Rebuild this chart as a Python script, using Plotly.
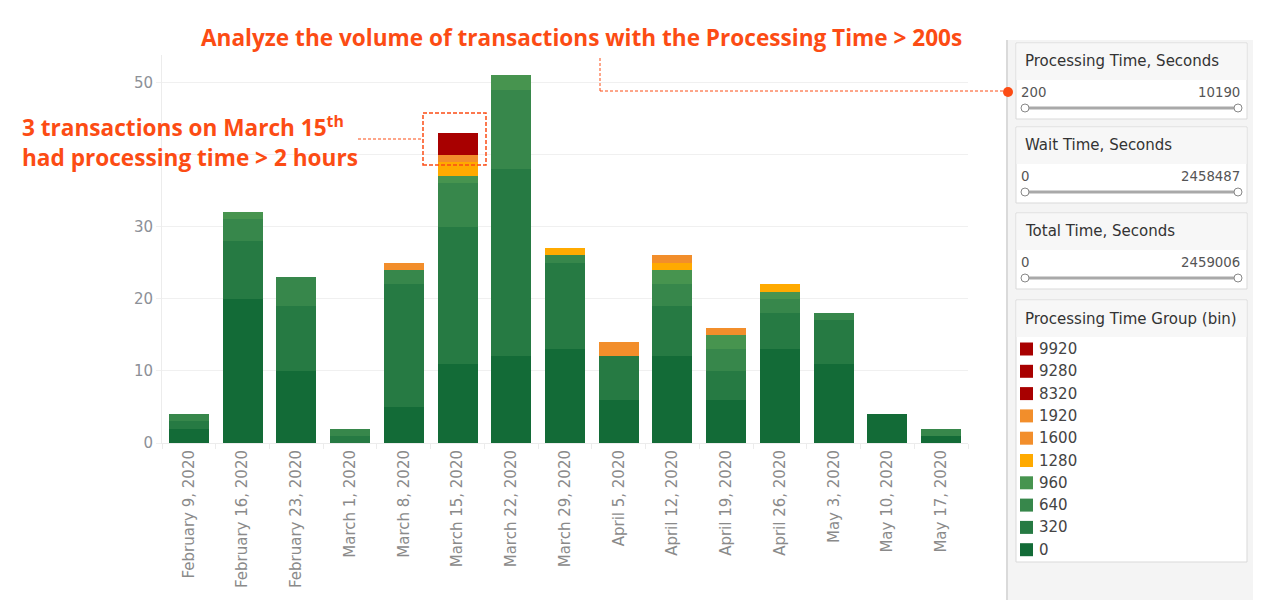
import plotly.graph_objects as go

# ─── Data (counts of transactions per week, by processing time bin) ───
weeks = [
    "February 9, 2020", "February 16, 2020", "February 23, 2020",
    "March 1, 2020", "March 8, 2020", "March 15, 2020", "March 22, 2020",
    "March 29, 2020", "April 5, 2020", "April 12, 2020", "April 19, 2020",
    "April 26, 2020", "May 3, 2020", "May 10, 2020", "May 17, 2020",
]
bin_0 = [2, 20, 10, 0, 5, 11, 12, 13, 6, 12, 6, 13, 11, 4, 1]
bin_320 = [1, 8, 9, 1, 17, 19, 26, 12, 6, 7, 4, 5, 6, 0, 0]
bin_640 = [1, 3, 4, 1, 2, 6, 11, 1, 0, 3, 3, 2, 1, 0, 1]
bin_960 = [0, 1, 0, 0, 0, 1, 2, 0, 0, 2, 2, 1, 0, 0, 0]
bin_1280 = [0, 0, 0, 0, 0, 2, 0, 1, 0, 1, 0, 1, 0, 0, 0]
bin_1600 = [0, 0, 0, 0, 1, 1, 0, 0, 2, 1, 1, 0, 0, 0, 0]
bin_1920 = [0, 0, 0, 0, 0, 0, 0, 0, 0, 0, 0, 0, 0, 0, 0]
bin_8320 = [0, 0, 0, 0, 0, 1, 0, 0, 0, 0, 0, 0, 0, 0, 0]
bin_9280 = [0, 0, 0, 0, 0, 1, 0, 0, 0, 0, 0, 0, 0, 0, 0]
bin_9920 = [0, 0, 0, 0, 0, 1, 0, 0, 0, 0, 0, 0, 0, 0, 0]

bin_labels = ["0", "320", "640", "960", "1280", "1600", "1920", "8320", "9280", "9920"]
bin_values = [bin_0, bin_320, bin_640, bin_960, bin_1280, bin_1600, bin_1920,
              bin_8320, bin_9280, bin_9920]
bin_colors = ["#136b37", "#267a43", "#37874b", "#47944f", "#ffaa00",
              "#f28e2b", "#f28e2b", "#a80000", "#a80000", "#a80000"]

y_ticks = [0, 10, 20, 30, 50]   # 40 label is hidden under the callout
y_hidden_grid = [40]

filters = [
    ("Processing Time, Seconds", "200", "10190"),
    ("Wait Time, Seconds", "0", "2458487"),
    ("Total Time, Seconds", "0", "2459006"),
]

# ─── Page geometry (page pixels; the page body adds an 8px margin) ───
OFF = 8
W, H = 1281 - 2 * OFF, 615 - 2 * OFF
L, R, T, B = 162, 968, 55, 443
ORANGE = "#fc4c14"
FONT = "DejaVu Sans"
CALLOUT = dict(family="Open Sans", size=22.6, color=ORANGE, weight="bold")


def px(x):
    return (x - L) / (R - L)


def py(y):
    return (B - y) / (B - T)


def note(x, y, text, size, color, anchor="left", family=FONT, **kw):
    return dict(x=px(x), y=py(y), xref="paper", yref="paper", text=text,
                showarrow=False, xanchor=anchor, yanchor="middle",
                font=dict(family=family, size=size, color=color), **kw)


fig = go.Figure()
for label, vals, color in zip(bin_labels, bin_values, bin_colors):
    fig.add_trace(go.Bar(
        x=weeks, y=vals, name=label,
        marker=dict(color=color, line=dict(width=0)),
    ))

shapes = []
annotations = []

for g in y_hidden_grid:
    shapes.append(dict(type="line", xref="paper", yref="y", layer="below",
                       x0=0, x1=1, y0=g, y1=g,
                       line=dict(color="#f0f0f0", width=1)))

# ─── Callouts ───
annotations.append(dict(
    x=px(581), y=py(38), xref="paper", yref="paper", showarrow=False,
    text="Analyze the volume of transactions with the Processing Time > 200s",
    font=CALLOUT, xanchor="center", yanchor="middle",
))
annotations.append(dict(
    x=px(20), y=py(141), xref="paper", yref="paper", showarrow=False,
    text="3 transactions on March 15<sup>th</sup><br>had processing time > 2 hours",
    font=CALLOUT, xanchor="left", yanchor="middle", align="left",
))
dash = dict(color=ORANGE, width=1, dash="3px,2px")
shapes += [
    dict(type="rect", xref="paper", yref="paper", x0=px(423), x1=px(486),
         y0=py(165), y1=py(113), line=dict(color=ORANGE, width=1.5, dash="4px,2px")),
    dict(type="line", xref="paper", yref="paper", x0=px(358), x1=px(423),
         y0=py(139), y1=py(139), line=dash),
    dict(type="line", xref="paper", yref="paper", x0=px(600), x1=px(600),
         y0=py(58), y1=py(91), line=dash),
    dict(type="line", xref="paper", yref="paper", x0=px(600), x1=px(1003),
         y0=py(91), y1=py(91), line=dash),
]

# ─── Right filter / legend panel ───
shapes.append(dict(type="rect", xref="paper", yref="paper", layer="below",
                   x0=px(1006), x1=px(1253), y0=py(600), y1=py(40),
                   fillcolor="#f4f4f4", line=dict(width=0)))
shapes.append(dict(type="line", xref="paper", yref="paper",
                   x0=px(1007), x1=px(1007), y0=py(600), y1=py(40),
                   line=dict(color="#d2d2d2", width=1.5)))

card_tops = [43, 127, 213]
for (title, lo, hi), top in zip(filters, card_tops):
    bottom = top + 76
    shapes.append(dict(type="rect", xref="paper", yref="paper", layer="below",
                       x0=px(1016), x1=px(1247), y0=py(bottom), y1=py(top),
                       fillcolor="white", line=dict(color="#d9d9d9", width=1)))
    shapes.append(dict(type="rect", xref="paper", yref="paper", layer="below",
                       x0=px(1016.5), x1=px(1246.5), y0=py(top + 37), y1=py(top + 0.5),
                       fillcolor="#f7f7f7", line=dict(width=0)))
    annotations.append(note(1023, top + 18, title, 15, "#333333"))
    annotations.append(note(1019, top + 49, lo, 13.3, "#555555"))
    annotations.append(note(1242, top + 49, hi, 13.3, "#555555", anchor="right"))
    ty = top + 65
    shapes.append(dict(type="line", xref="paper", yref="paper",
                       x0=px(1025), x1=px(1238), y0=py(ty), y1=py(ty),
                       line=dict(color="#a9a9a9", width=3)))
    for hx in (1025, 1238):
        shapes.append(dict(type="circle", xref="paper", yref="paper",
                           x0=px(hx - 4), x1=px(hx + 4), y0=py(ty + 4), y1=py(ty - 4),
                           fillcolor="white", line=dict(color="#888888", width=1)))

# legend card
shapes.append(dict(type="rect", xref="paper", yref="paper", layer="below",
                   x0=px(1016), x1=px(1247), y0=py(562), y1=py(300),
                   fillcolor="white", line=dict(color="#d9d9d9", width=1)))
shapes.append(dict(type="rect", xref="paper", yref="paper", layer="below",
                   x0=px(1016.5), x1=px(1246.5), y0=py(337), y1=py(300.5),
                   fillcolor="#f7f7f7", line=dict(width=0)))
annotations.append(note(1023, 319, "Processing Time Group (bin)", 15, "#333333"))
for i, (label, color) in enumerate(zip(bin_labels[::-1], bin_colors[::-1])):
    ry = 349 + i * 22.3
    shapes.append(dict(type="rect", xref="paper", yref="paper",
                       x0=px(1020), x1=px(1033), y0=py(ry + 6.5), y1=py(ry - 6.5),
                       fillcolor=color, line=dict(width=0)))
    annotations.append(note(1037, ry, label, 15, "#444444"))

# the orange dot on the processing time filter
shapes.append(dict(type="circle", xref="paper", yref="paper",
                   x0=px(1003), x1=px(1013), y0=py(97), y1=py(87),
                   fillcolor=ORANGE, line=dict(width=0)))

fig.update_layout(
    barmode="stack",
    bargap=0.255,
    width=W, height=H,
    margin=dict(l=L - OFF, r=W - (R - OFF), t=T - OFF, b=H - (B - OFF),
                autoexpand=False),
    paper_bgcolor="white",
    plot_bgcolor="white",
    showlegend=False,
    shapes=shapes,
    annotations=annotations,
    font=dict(family=FONT, color="#888888"),
    xaxis=dict(
        tickangle=-90,
        tickfont=dict(family=FONT, size=15, color="#8a8a8a"),
        showline=True, linecolor="#ececec",
        ticks="outside", tickson="boundaries", ticklen=5, tickcolor="#ececec",
        showgrid=False,
    ),
    yaxis=dict(
        range=[0, 53.8],
        tickvals=y_ticks,
        tickfont=dict(family=FONT, size=15, color="#8c9097"),
        gridcolor="#f0f0f0",
        showline=True, linecolor="#ececec",
        zeroline=False,
        ticks="outside", ticklen=5, tickcolor="#f0f0f0",
    ),
)

fig.write_html("out.html")
